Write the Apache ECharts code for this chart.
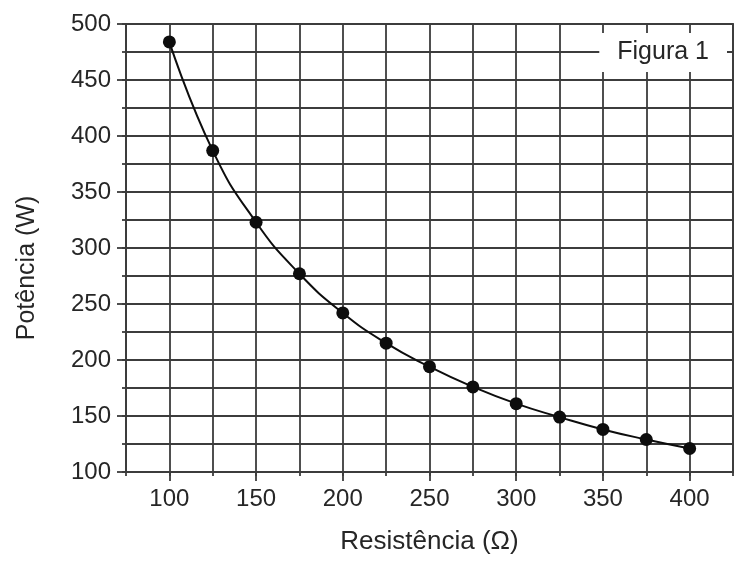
<!DOCTYPE html>
<html>
<head>
<meta charset="utf-8">
<script src="https://cdn.jsdelivr.net/npm/echarts@6/dist/echarts.min.js"></script>
<style>
    html, body { margin: 0; padding: 0; background: #fff; }
    #chart { width: 745px; height: 570px; }
</style>
</head>
<body>
<div id="chart"></div>
<script>
    // resistência (ohm) e potência (W)
    var resistencia = [100, 125, 150, 175, 200, 225, 250, 275, 300, 325, 350, 375, 400];
    var potencia = [484, 387, 323, 277, 242, 215, 194, 176, 161, 149, 138, 129, 121];
    var xLabels = [100, 150, 200, 250, 300, 350, 400];
    var yLabels = [100, 150, 200, 250, 300, 350, 400, 450, 500];

    var lineColor = '#3c3c3c';
    var textColor = '#262626';
    var font = 'Liberation Sans, Arial, sans-serif';

    var points = resistencia.map(function (r, i) {
        return [r, potencia[i]];
    });

    var chart = echarts.init(document.getElementById('chart'), null, {renderer: 'canvas'});
    chart.setOption({
        animation: false,
        backgroundColor: '#fff',
        title: {
            text: 'Figura 1',
            right: 18,
            top: 33,
            backgroundColor: '#fff',
            padding: [7, 18, 7, 18],
            textStyle: {
                fontFamily: font,
                fontWeight: 'normal',
                fontSize: 25,
                lineHeight: 25,
                color: textColor
            }
        },
        grid: {
            left: 126,
            right: 12,
            top: 24,
            bottom: 98,
            show: true,
            borderColor: lineColor,
            borderWidth: 1.8
        },
        xAxis: [{
            type: 'value',
            min: 75,
            max: 425,
            interval: 25,
            name: 'Resistência (Ω)',
            nameLocation: 'middle',
            nameGap: 57,
            nameTextStyle: {fontFamily: font, fontSize: 26, color: textColor},
            axisLine: {lineStyle: {color: lineColor, width: 1.8}},
            axisTick: {length: 4, lineStyle: {color: lineColor, width: 1.8}},
            axisLabel: {
                customValues: xLabels,
                margin: 15,
                fontFamily: font,
                fontSize: 24,
                color: textColor
            },
            splitLine: {show: true, lineStyle: {color: lineColor, width: 1.8}}
        }, {
            // ticks maiores
            type: 'value',
            position: 'bottom',
            min: 75,
            max: 425,
            interval: 25,
            axisLine: {show: false},
            axisTick: {customValues: xLabels, length: 9, lineStyle: {color: lineColor, width: 1.8}},
            axisLabel: {show: false},
            splitLine: {show: false}
        }],
        yAxis: [{
            type: 'value',
            min: 100,
            max: 500,
            interval: 25,
            name: 'Potência (W)',
            nameLocation: 'middle',
            nameGap: 86,
            nameTextStyle: {
                fontFamily: font,
                fontSize: 25,
                color: textColor,
                padding: [0, 40, 0, 0]
            },
            axisLine: {show: true, lineStyle: {color: lineColor, width: 1.8}},
            axisTick: {show: true, length: 4, lineStyle: {color: lineColor, width: 1.8}},
            axisLabel: {
                customValues: yLabels,
                margin: 15,
                fontFamily: font,
                fontSize: 24,
                color: textColor
            },
            splitLine: {show: true, lineStyle: {color: lineColor, width: 1.8}}
        }, {
            type: 'value',
            position: 'left',
            min: 100,
            max: 500,
            interval: 25,
            axisLine: {show: false},
            axisTick: {show: true, customValues: yLabels, length: 9, lineStyle: {color: lineColor, width: 1.8}},
            axisLabel: {show: false},
            splitLine: {show: false}
        }],
        series: [{
            type: 'line',
            data: points,
            smooth: true,
            symbol: 'circle',
            symbolSize: 13,
            itemStyle: {color: '#0d0d0d'},
            lineStyle: {color: '#0d0d0d', width: 2}
        }]
    });
</script>
</body>
</html>
